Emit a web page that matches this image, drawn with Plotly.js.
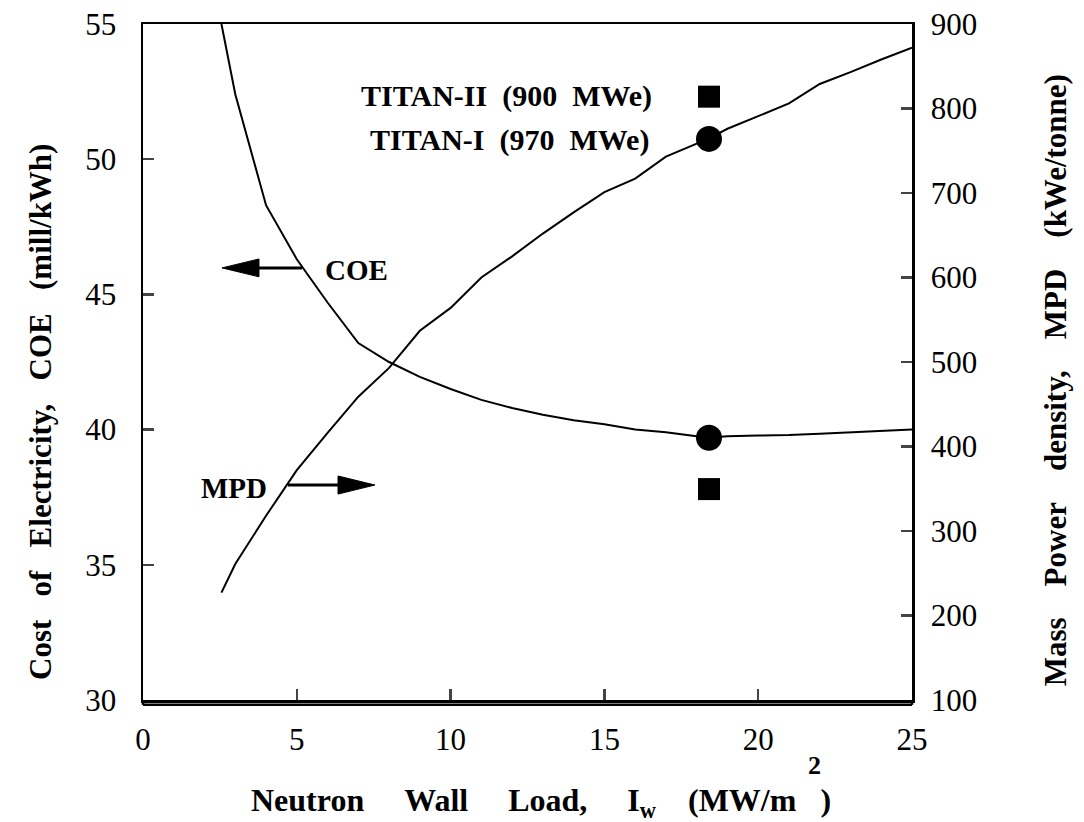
<!DOCTYPE html>
<html>
<head>
<meta charset="utf-8">
<script src="https://cdn.plot.ly/plotly-3.0.1.min.js"></script>
<style>html,body{margin:0;padding:0;background:#fff;}#chart{width:1084px;height:822px;}</style>
</head>
<body>
<div id="chart"></div>
<script>
// Neutron wall load (MW/m^2)
const wallLoad = [2.55, 3, 4, 5, 6, 7, 8, 9, 10, 11, 12, 13, 14, 15, 16, 17, 18.37, 19, 20, 21, 22, 23, 24, 25];
// Cost of electricity (mill/kWh)
const coe = [55.0, 52.4, 48.3, 46.3, 44.7, 43.2, 42.5, 41.95, 41.5, 41.1, 40.8, 40.55, 40.35, 40.2, 40.0, 39.9, 39.7, 39.75, 39.78, 39.8, 39.85, 39.9, 39.95, 40.0];
// Mass power density (kWe/tonne)
const mpd = [227, 261, 318, 372, 416, 459, 493, 537, 564, 600, 625, 652, 677, 701, 717, 743, 764, 776, 791, 806, 829, 843, 858, 872];

// Design points
const titanLoad = [18.4, 18.4];
const titanNames = ["TITAN-I", "TITAN-II"];
const titanCOE = [39.7, 37.8];
const titanMPD = [764, 814];

const serif = "Liberation Serif";
const S = "\u00a0";
const gap = (n) => S.repeat(n);

const traces = [
  {x: wallLoad, y: coe, type: "scatter", mode: "lines", name: "COE",
   line: {color: "#000", width: 2}, yaxis: "y", hoverinfo: "skip"},
  {x: wallLoad, y: mpd, type: "scatter", mode: "lines", name: "MPD",
   line: {color: "#000", width: 2}, yaxis: "y2", hoverinfo: "skip"},
  {x: [titanLoad[0]], y: [titanCOE[0]], type: "scatter", mode: "markers", name: titanNames[0] + " COE",
   marker: {symbol: "circle", size: 26, color: "#000"}, yaxis: "y"},
  {x: [titanLoad[0]], y: [titanMPD[0]], type: "scatter", mode: "markers", name: titanNames[0] + " MPD",
   marker: {symbol: "circle", size: 26, color: "#000"}, yaxis: "y2"},
  {x: [titanLoad[1]], y: [titanCOE[1]], type: "scatter", mode: "markers", name: titanNames[1] + " COE",
   marker: {symbol: "square", size: 22, color: "#000"}, yaxis: "y"},
  {x: [titanLoad[1]], y: [titanMPD[1]], type: "scatter", mode: "markers", name: titanNames[1] + " MPD",
   marker: {symbol: "square", size: 22, color: "#000"}, yaxis: "y2"}
];

const tickFont = {family: serif, size: 31, color: "#000"};
const boldFont = (sz) => ({family: serif, size: sz, color: "#000", weight: "bold"});

const layout = {
  width: 1084, height: 822,
  margin: {l: 143, r: 172, t: 24, b: 122},
  paper_bgcolor: "#fff", plot_bgcolor: "#fff",
  font: {family: serif, color: "#000"},
  showlegend: false,
  xaxis: {range: [0, 25], tickvals: [0, 5, 10, 15, 20, 25], ticks: "inside", ticklen: 11, tickwidth: 2.5,
          showline: true, linewidth: 2.5, linecolor: "#000", mirror: true, showgrid: false, zeroline: false,
          tickfont: tickFont, ticklabelstandoff: 10, fixedrange: true},
  yaxis: {range: [30, 55], tickvals: [30, 35, 40, 45, 50, 55], ticks: "inside", ticklen: 11, tickwidth: 2.5,
          showline: true, linewidth: 2.5, linecolor: "#000", showgrid: false, zeroline: false,
          tickfont: tickFont, ticklabelstandoff: 18, fixedrange: true},
  yaxis2: {range: [100, 900], tickvals: [100, 200, 300, 400, 500, 600, 700, 800, 900], overlaying: "y", side: "right",
           ticks: "inside", ticklen: 11, tickwidth: 2.5,
           showline: true, linewidth: 2.5, linecolor: "#000", showgrid: false, zeroline: false,
           tickfont: tickFont, ticklabelstandoff: 10, fixedrange: true},
  shapes: [
    {type: "line", xref: "paper", yref: "paper", x0: 0, x1: 1, y0: -0.0072, y1: -0.0072, line: {color: "#000", width: 2.5}},
    {type: "line", xref: "paper", yref: "paper", x0: 0, x1: 0, y0: -0.0072, y1: 0, line: {color: "#000", width: 2.5}},
    {type: "line", xref: "paper", yref: "paper", x0: 1, x1: 1, y0: -0.0072, y1: 0, line: {color: "#000", width: 2.5}},
    // COE arrow (pointing left)
    {type: "line", xref: "x", yref: "y", x0: 3.6, x1: 5.17, y0: 45.98, y1: 45.98, line: {color: "#000", width: 3}},
    {type: "path", xref: "x", yref: "y", path: "M 2.57 45.98 L 3.77 46.31 L 3.77 45.65 Z", fillcolor: "#000", line: {color: "#000", width: 1}},
    // MPD arrow (pointing right)
    {type: "line", xref: "x", yref: "y2", x0: 4.71, x1: 6.5, y0: 354.4, y1: 354.4, line: {color: "#000", width: 3}},
    {type: "path", xref: "x", yref: "y2", path: "M 7.54 354.4 L 6.34 365.1 L 6.34 343.7 Z", fillcolor: "#000", line: {color: "#000", width: 1}}
  ],
  annotations: [
    {xref: "x", yref: "y", x: 16.6, y: 52.34, xanchor: "right", yanchor: "middle", showarrow: false,
     text: "TITAN-II" + gap(2) + "(900" + gap(2) + "MWe)", font: boldFont(30)},
    {xref: "x", yref: "y", x: 16.5, y: 50.71, xanchor: "right", yanchor: "middle", showarrow: false,
     text: "TITAN-I" + gap(2) + "(970" + gap(2) + "MWe)", font: boldFont(30)},
    {xref: "x", yref: "y", x: 5.85, y: 45.9, xanchor: "left", yanchor: "middle", showarrow: false,
     text: "COE", font: boldFont(29)},
    {xref: "x", yref: "y", x: 1.83, y: 37.84, xanchor: "left", yanchor: "middle", showarrow: false,
     text: "MPD", font: boldFont(29)},
    {xref: "paper", yref: "paper", x: -0.134, y: 0.426, xanchor: "center", yanchor: "middle", showarrow: false, textangle: -90,
     text: "Cost" + gap(3) + "of" + gap(3) + "Electricity," + gap(3) + "COE" + gap(3) + "(mill/kWh)", font: boldFont(31)},
    {xref: "paper", yref: "paper", x: 1.186, y: 0.473, xanchor: "center", yanchor: "middle", showarrow: false, textangle: -90,
     text: "Mass" + gap(4) + "Power" + gap(4) + "density," + gap(4) + "MPD" + gap(4) + "(kWe/tonne)", font: boldFont(31)},
    {xref: "paper", yref: "paper", x: 0.518, y: -0.152, xanchor: "center", yanchor: "middle", showarrow: false,
     text: "Neutron" + gap(5) + "Wall" + gap(5) + "Load," + gap(5) + "I<sub>w</sub>" + gap(4) + "(MW/m" + gap(3) + ")", font: boldFont(32)},
    {xref: "paper", yref: "paper", x: 0.873, y: -0.097, xanchor: "center", yanchor: "middle", showarrow: false,
     text: "2", font: boldFont(26)}
  ]
};

Plotly.newPlot("chart", traces, layout, {displayModeBar: false, staticPlot: true});
</script>
</body>
</html>
